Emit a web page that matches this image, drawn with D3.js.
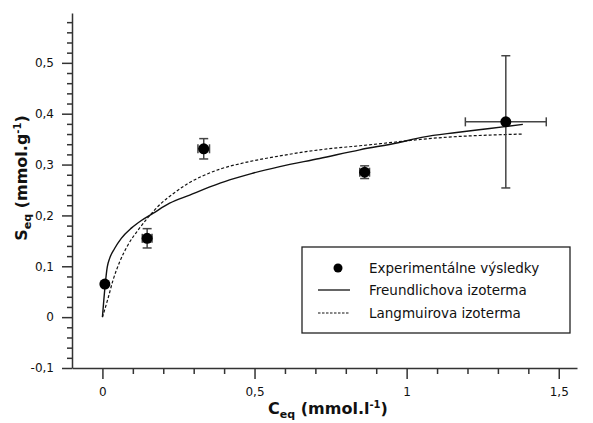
<!DOCTYPE html>
<html>
<head>
<meta charset="utf-8">
<script src="https://cdn.jsdelivr.net/npm/d3@7/dist/d3.min.js"></script>
<style>
  html, body { margin: 0; padding: 0; background: #fff; }
  svg { display: block; }
  text { font-family: "DejaVu Sans", Verdana, sans-serif; fill: #111; }
</style>
</head>
<body>
<svg id="chart" width="593" height="423"></svg>
<script>
// Experimental equilibrium data (C_eq in mmol/l, S_eq in mmol/g) with error bars
const expC = [0.008, 0.147, 0.333, 0.862, 1.326];
const expS = [0.065, 0.155, 0.331, 0.285, 0.384];
const errC = [0, 0.016, 0.019, 0.016, 0.133];
const errS = [0, 0.019, 0.020, 0.0125, 0.130];

// Freundlich isotherm curve
const freundlichC = [0, 0.016, 0.024, 0.040, 0.062, 0.095, 0.128, 0.166, 0.221, 0.287, 0.353, 0.418, 0.494, 0.583, 0.714, 0.846, 0.972, 1.054, 1.164, 1.273, 1.382];
const freundlichS = [0, 0.099, 0.116, 0.135, 0.155, 0.175, 0.190, 0.204, 0.224, 0.240, 0.256, 0.270, 0.283, 0.296, 0.312, 0.329, 0.343, 0.354, 0.363, 0.371, 0.379];

// Langmuir isotherm curve
const langmuirC = [0, 0.018, 0.035, 0.057, 0.084, 0.117, 0.150, 0.190, 0.238, 0.276, 0.331, 0.386, 0.462, 0.583, 0.714, 0.846, 0.944, 1.054, 1.164, 1.273, 1.382];
const langmuirS = [0, 0.036, 0.073, 0.109, 0.142, 0.171, 0.196, 0.222, 0.245, 0.261, 0.278, 0.291, 0.303, 0.317, 0.329, 0.337, 0.343, 0.350, 0.355, 0.358, 0.360];

// Axis ticks
const xMajor = [0, 0.5, 1, 1.5];
const xMinor = [0.1, 0.2, 0.3, 0.4, 0.6, 0.7, 0.8, 0.9, 1.1, 1.2, 1.3, 1.4];
const yMajor = [-0.1, 0, 0.1, 0.2, 0.3, 0.4, 0.5];
const yMinor = [-0.08, -0.06, -0.04, -0.02, 0.02, 0.04, 0.06, 0.08, 0.12, 0.14, 0.16, 0.18,
                0.22, 0.24, 0.26, 0.28, 0.32, 0.34, 0.36, 0.38, 0.42, 0.44, 0.46, 0.48,
                0.52, 0.54, 0.56, 0.58];

// Legend entries
const legendLabels = ["Experimentálne výsledky", "Freundlichova izoterma", "Langmuirova izoterma"];

const svg = d3.select("#chart");

const x = d3.scaleLinear().domain([-0.1, 1.56]).range([72, 577]);
const y = d3.scaleLinear().domain([-0.1, 0.598]).range([368, 13]);

const fmt = d => (d === 0 ? "0" : String(d).replace(".", ","));
const axisColor = "#333";

// X axis
const gx = svg.append("g").attr("transform", `translate(0,${y(-0.1)})`);
gx.call(d3.axisBottom(x).tickValues(xMajor).tickSize(11).tickSizeOuter(0).tickPadding(8).tickFormat(fmt));
gx.append("g").call(d3.axisBottom(x).tickValues(xMinor).tickSize(6).tickSizeOuter(0).tickFormat(""))
  .select(".domain").remove();

// Y axis
const gy = svg.append("g").attr("transform", `translate(${x(-0.1)},0)`);
gy.call(d3.axisLeft(y).tickValues(yMajor).tickSize(10).tickSizeOuter(0).tickPadding(8).tickFormat(fmt));
gy.append("g").call(d3.axisLeft(y).tickValues(yMinor).tickSize(5).tickSizeOuter(0).tickFormat(""))
  .select(".domain").remove();

svg.selectAll(".domain, .tick line").attr("stroke", axisColor).attr("stroke-width", 1.5);
svg.selectAll(".tick text").attr("font-size", 12).attr("font-family", "DejaVu Sans, sans-serif").attr("fill", "#222");

// Axis titles
const xt = svg.append("text").attr("x", 328).attr("y", 414).attr("text-anchor", "middle")
  .attr("font-size", 16).attr("font-weight", "bold");
xt.append("tspan").text("C");
xt.append("tspan").text("eq").attr("font-size", 11).attr("dy", 4);
xt.append("tspan").text(" (mmol.l").attr("dy", -4);
xt.append("tspan").text("-1").attr("font-size", 10).attr("dy", -6);
xt.append("tspan").text(")").attr("dy", 6);

const yt = svg.append("text").attr("transform", "translate(27,178) rotate(-90)").attr("text-anchor", "middle")
  .attr("font-size", 16).attr("font-weight", "bold");
yt.append("tspan").text("S");
yt.append("tspan").text("eq").attr("font-size", 11).attr("dy", 4);
yt.append("tspan").text(" (mmol.g").attr("dy", -4);
yt.append("tspan").text("-1").attr("font-size", 10).attr("dy", -6);
yt.append("tspan").text(")").attr("dy", 6);

// Isotherm curves
const line = d3.line().x(d => x(d[0])).y(d => y(d[1])).curve(d3.curveMonotoneX);
svg.append("path").datum(freundlichC.map((c, i) => [c, freundlichS[i]]))
  .attr("d", line).attr("fill", "none").attr("stroke", "#111").attr("stroke-width", 1.4);
svg.append("path").datum(langmuirC.map((c, i) => [c, langmuirS[i]]))
  .attr("d", line).attr("fill", "none").attr("stroke", "#111").attr("stroke-width", 1.2)
  .attr("stroke-dasharray", "3,2");

// Error bars
const errColor = "#444";
const eb = svg.append("g").attr("stroke", errColor).attr("stroke-width", 1.5);
expC.forEach((c, i) => {
  const s = expS[i];
  if (errS[i] > 0) {
    eb.append("line").attr("x1", x(c)).attr("x2", x(c)).attr("y1", y(s - errS[i])).attr("y2", y(s + errS[i]));
    [s - errS[i], s + errS[i]].forEach(v =>
      eb.append("line").attr("x1", x(c) - 4.5).attr("x2", x(c) + 4.5).attr("y1", y(v)).attr("y2", y(v)));
  }
  if (errC[i] > 0) {
    eb.append("line").attr("x1", x(c - errC[i])).attr("x2", x(c + errC[i])).attr("y1", y(s)).attr("y2", y(s));
    [c - errC[i], c + errC[i]].forEach(v =>
      eb.append("line").attr("x1", x(v)).attr("x2", x(v)).attr("y1", y(s) - 4.5).attr("y2", y(s) + 4.5));
  }
});

// Data points
svg.append("g").selectAll("circle").data(expC).join("circle")
  .attr("cx", (c) => x(c)).attr("cy", (c, i) => y(expS[i])).attr("r", 5.5).attr("fill", "#000");

// Legend
const lg = svg.append("g");
lg.append("rect").attr("x", 302).attr("y", 247).attr("width", 268).attr("height", 86)
  .attr("fill", "#fff").attr("stroke", "#222").attr("stroke-width", 1.3);
const rowY = [268, 290, 313];
lg.append("circle").attr("cx", 338).attr("cy", rowY[0]).attr("r", 4.5).attr("fill", "#000");
lg.append("line").attr("x1", 318).attr("x2", 350).attr("y1", rowY[1]).attr("y2", rowY[1])
  .attr("stroke", "#111").attr("stroke-width", 1.3);
lg.append("line").attr("x1", 318).attr("x2", 350).attr("y1", rowY[2]).attr("y2", rowY[2])
  .attr("stroke", "#111").attr("stroke-width", 1.1).attr("stroke-dasharray", "2.5,1.5");
legendLabels.forEach((t, i) => {
  lg.append("text").attr("x", 369).attr("y", rowY[i] + 5).attr("font-size", 13.5).text(t);
});
</script>
</body>
</html>
